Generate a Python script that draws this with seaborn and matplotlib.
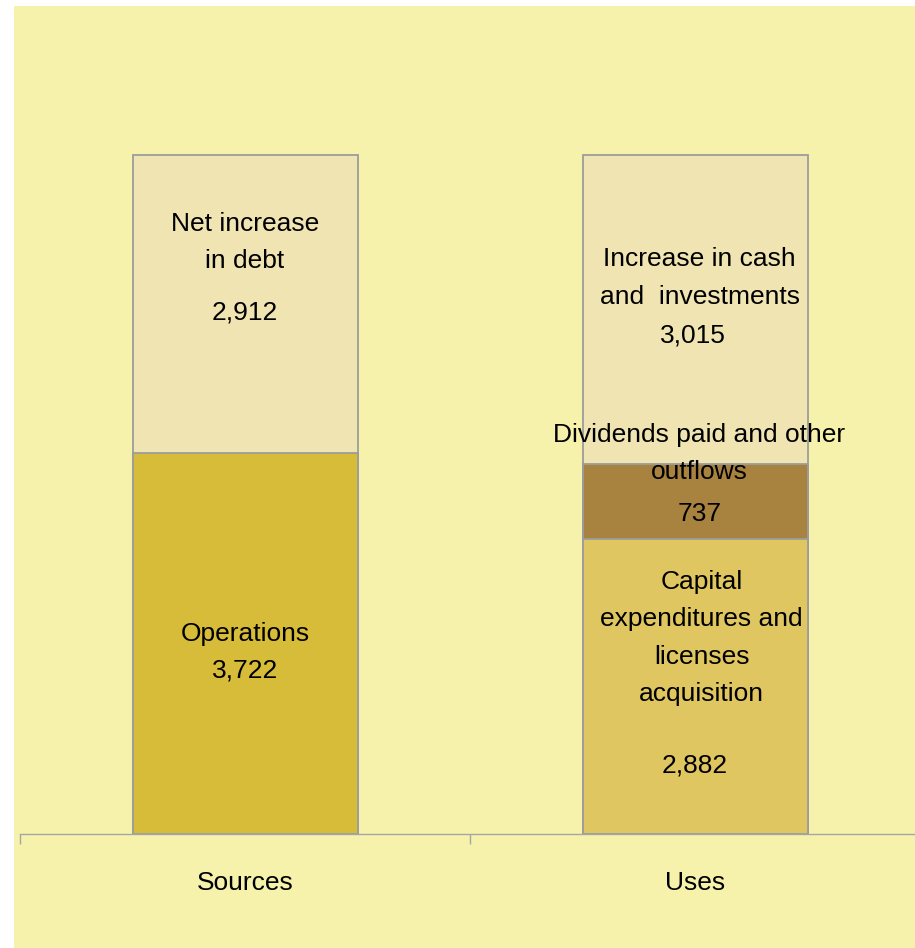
import pandas as pd
import matplotlib
matplotlib.use("Agg")
import matplotlib.pyplot as plt
from matplotlib.patches import Rectangle
import seaborn as sns

# data
categories = ["Sources", "Uses"]
segment_category = ["Sources", "Sources", "Uses", "Uses", "Uses"]
segment_labels = ["Operations", "Net increase\nin debt",
                  "Capital\nexpenditures and\nlicenses\nacquisition",
                  "Dividends paid and other\noutflows",
                  "Increase in cash\nand  investments"]
segment_values = [3722, 2912, 2882, 737, 3015]
segment_colors = ["#D6BC38", "#F0E4B2", "#DFC661", "#A88340", "#F0E4B2"]

df = pd.DataFrame({"cat": segment_category, "label": segment_labels,
                   "value": segment_values, "color": segment_colors})
df["top"] = df.groupby("cat")["value"].cumsum()

sns.set_theme(style="white")
plt.rcParams["font.family"] = ["Liberation Sans", "DejaVu Sans"]

W, H = 915, 948
fig = plt.figure(figsize=(W / 100, H / 100), dpi=100, facecolor="white")
fig.patches.append(Rectangle((14 / W, 0), 1 - 14 / W, (H - 6) / H,
                             transform=fig.transFigure, facecolor="#F6F2AC",
                             edgecolor="none", zorder=-10))

top_px, bot_px = 15, 834
ax = fig.add_axes([20 / W, 1 - bot_px / H, 900 / W, (bot_px - top_px) / H])
ax.set_facecolor("none")

# draw stacked bars: tallest cumulative first so lower segments sit on top
for _, r in df.sort_values("top", ascending=False).iterrows():
    sns.barplot(x=[r["cat"]], y=[r["top"]], order=categories, color=r["color"],
                saturation=1, width=0.5, edgecolor="#9C9C9C", linewidth=1.3,
                errorbar=None, ax=ax)

ax.set_xlim(-0.5, 1.5)
ax.set_ylim(0, 8000)
ax.set_yticks([])
ax.set_xlabel("")
ax.set_ylabel("")
for s in ["left", "top", "right"]:
    ax.spines[s].set_visible(False)
ax.spines["bottom"].set_color("#A6A6A6")
ax.spines["bottom"].set_linewidth(1)
ax.set_xticks([0, 1])
ax.set_xticklabels(categories, fontsize=19)
ax.tick_params(axis="x", which="major", length=0, pad=27, labelcolor="black")
ax.set_xticks([-0.5, 0.5, 1.5], minor=True)
ax.tick_params(axis="x", which="minor", length=7, width=1, color="#A6A6A6",
               direction="out", bottom=True)

# annotation layout (x, y in data coords)
fs = 19
texts = [
    (0, 5778, "Net increase\nin debt"),
    (0, 5090, f"{segment_values[1]:,}"),
    (0, 1955, "Operations"),
    (0, 1595, f"{segment_values[0]:,}"),
    (1.01, 5431, "Increase in cash\nand  investments"),
    (0.995, 4865, f"{segment_values[4]:,}"),
    (1.01, 3717, "Dividends paid and other\noutflows"),
    (1.01, 3130, f"{segment_values[3]:,}"),
    (1.015, 1915, "Capital\nexpenditures and\nlicenses\nacquisition"),
    (1.0, 670, f"{segment_values[2]:,}"),
]
for x, y, t in texts:
    ax.text(x, y, t, ha="center", va="center", fontsize=fs, color="black",
            linespacing=1.7)

fig.savefig("out.png", dpi=100, facecolor="white")
